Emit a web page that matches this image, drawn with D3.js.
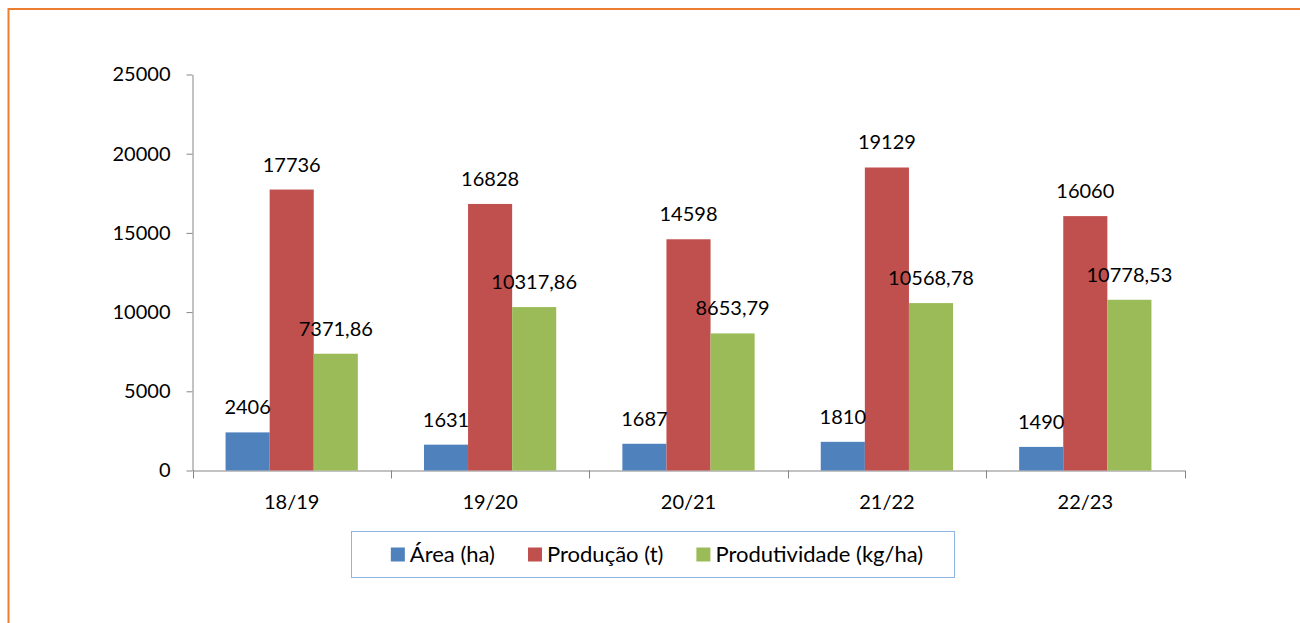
<!DOCTYPE html>
<html>
<head>
<meta charset="utf-8">
<script src="https://cdn.jsdelivr.net/npm/d3@7"></script>
<style>
  html, body { margin: 0; padding: 0; background: #fff; }
  svg { display: block; font-family: Lato, "Open Sans", sans-serif; }
</style>
</head>
<body>
<div id="chart"></div>
<script>
'use strict';

// safras
var categories = ["18/19", "19/20", "20/21", "21/22", "22/23"];
var seriesNames = ["Área (ha)", "Produção (t)", "Produtividade (kg/ha)"];
var area = [2406, 1631, 1687, 1810, 1490];
var producao = [17736, 16828, 14598, 19129, 16060];
var produtividade = [7371.86, 10317.86, 8653.79, 10568.78, 10778.53];
var decimals = [0, 0, 2];
var yTicks = [0, 5000, 10000, 15000, 20000, 25000];
var colors = ["#4F81BD", "#C0504D", "#9BBB59"];

var W = 1300, H = 623;
var fontSize = 20;
var legendFontSize = 22;

var svg = d3.select("#chart")
  .append("svg")
  .attr("width", W)
  .attr("height", H);

// orange frame (runs off right / bottom edge)
svg.append("rect")
  .attr("x", 8.5).attr("y", 9)
  .attr("width", W + 20).attr("height", H + 20)
  .attr("fill", "none")
  .attr("stroke", "#ED7D31")
  .attr("stroke-width", 2);

var plot = {left: 192.5, right: 1184.5, top: 74.5, bottom: 470.5};

var x = d3.scaleBand()
  .domain(categories)
  .range([plot.left, plot.right])
  .padding(0);

var x1 = d3.scaleBand()
  .domain(d3.range(seriesNames.length))
  .range([0, x.bandwidth()])
  .paddingInner(0)
  .paddingOuter(0.75);

var y = d3.scaleLinear()
  .domain([0, 25000])
  .range([plot.bottom, plot.top]);

var allSeries = [area, producao, produtividade];
var rows = [];
allSeries.forEach(function(vals, s) {
  vals.forEach(function(v, i) {
    rows.push({cat: categories[i], s: s, value: v});
  });
});

var fmt = function(d) {
  return d.value.toFixed(decimals[d.s]).replace(".", ",");
};

// y axis
var yAxis = svg.append("g")
  .attr("transform", "translate(" + plot.left + ",0)")
  .call(d3.axisLeft(y).tickValues(yTicks).tickSize(6).tickSizeOuter(0).tickPadding(16).tickFormat(d3.format("d")));

// x axis (labels only, boundaries drawn below)
var xAxis = svg.append("g")
  .attr("transform", "translate(0," + plot.bottom + ")")
  .call(d3.axisBottom(x).tickSize(0).tickSizeOuter(0).tickPadding(24));

var boundaries = categories.map(function(c) { return x(c); }).concat([x.range()[1]]);
svg.append("g")
  .selectAll("line")
  .data(boundaries)
  .join("line")
  .attr("x1", d => Math.round(d) + 0.5)
  .attr("x2", d => Math.round(d) + 0.5)
  .attr("y1", plot.bottom)
  .attr("y2", plot.bottom + 8)
  .attr("stroke", "#868686");

[yAxis, xAxis].forEach(function(a) {
  a.selectAll("path, line").attr("stroke", "#868686");
  a.selectAll("text")
    .attr("font-size", fontSize)
    .attr("font-family", "Lato, 'Open Sans', sans-serif")
    .attr("fill", "#000");
});

// bars
svg.append("g")
  .selectAll("rect")
  .data(rows)
  .join("rect")
  .attr("x", d => x(d.cat) + x1(d.s))
  .attr("y", d => y(d.value))
  .attr("width", x1.bandwidth())
  .attr("height", d => y(0) - y(d.value))
  .attr("fill", d => colors[d.s]);

// data labels
svg.append("g")
  .selectAll("text")
  .data(rows)
  .join("text")
  .attr("x", d => x(d.cat) + x1(d.s) + x1.bandwidth() / 2)
  .attr("y", d => y(d.value) - 18)
  .attr("text-anchor", "middle")
  .attr("font-size", fontSize)
  .attr("fill", "#000")
  .text(fmt);

// legend
var legend = svg.append("g");
var box = {x: 351.5, y: 531.5, w: 603, h: 46};
legend.append("rect")
  .attr("x", box.x).attr("y", box.y)
  .attr("width", box.w).attr("height", box.h)
  .attr("fill", "#fff")
  .attr("stroke", "#8EB4E3");

var items = legend.selectAll("g.item")
  .data(seriesNames)
  .join("g")
  .attr("class", "item");

items.append("rect")
  .attr("width", 14).attr("height", 14)
  .attr("fill", (d, i) => colors[i]);

items.append("text")
  .attr("x", 19)
  .attr("y", 14)
  .attr("font-size", legendFontSize)
  .attr("fill", "#000")
  .text(d => d);

var widths = [];
items.each(function() { widths.push(this.getBBox().width); });
var gap = 33;
var total = d3.sum(widths) + gap * (widths.length - 1);
var cx = box.x + box.w / 2 + 4;
var start = cx - total / 2;
items.attr("transform", function(d, i) {
  var off = start + d3.sum(widths.slice(0, i)) + gap * i;
  return "translate(" + off + "," + (box.y + 16) + ")";
});
</script>
</body>
</html>
